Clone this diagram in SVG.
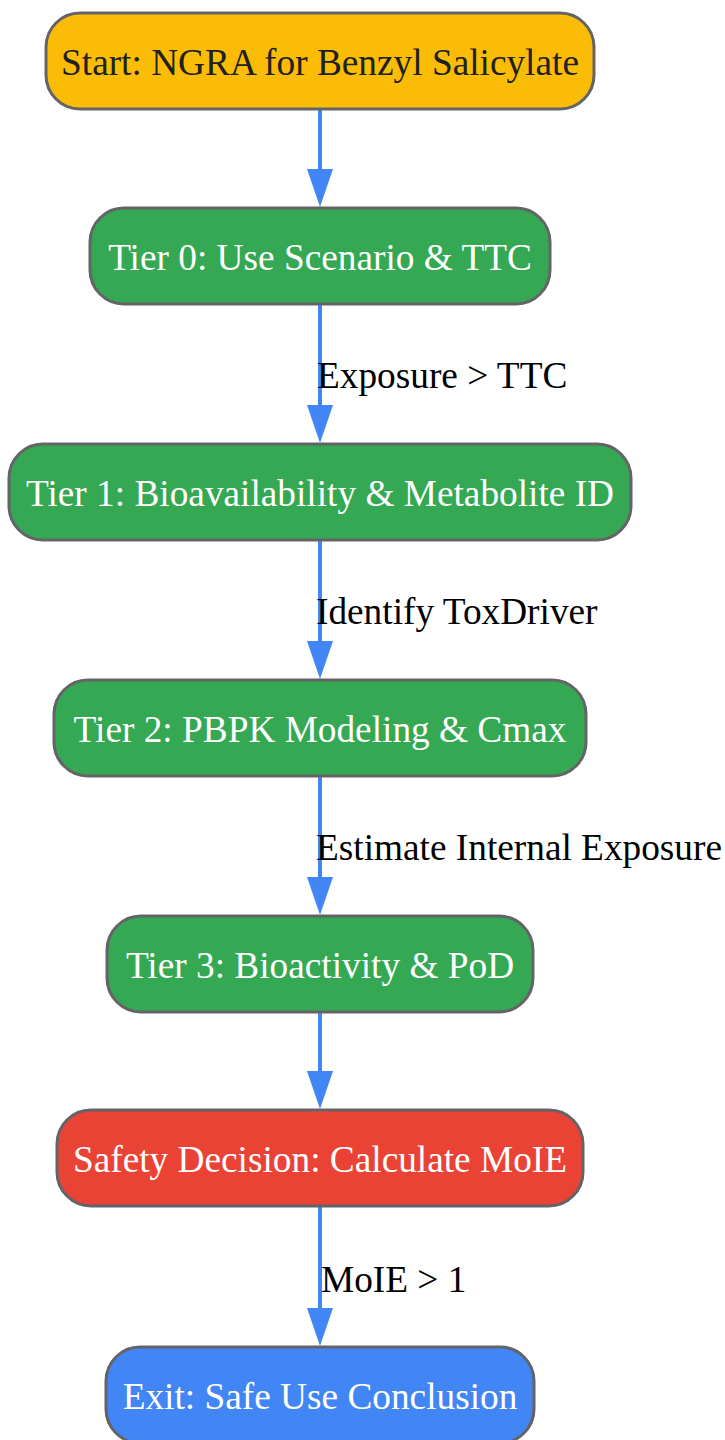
<svg xmlns="http://www.w3.org/2000/svg" width="725" height="1440" viewBox="0 0 725 1440">
<style>
.n{stroke:#646468;stroke-width:3}
.t{font-family:"Liberation Serif",serif;font-size:37.3px;text-anchor:middle;fill:#fff}
.l{font-family:"Liberation Serif",serif;font-size:37.3px;fill:#000}
.e{stroke:#4285F4;stroke-width:4;fill:none}
.h{fill:#4285F4}
</style>
<rect width="725" height="1440" fill="#fff"/>
<g id="connectors">
<line class="e" x1="320" y1="110" x2="320" y2="169"/><path class="h" d="M307,169 L333,169 L320,207 Z"/>
<line class="e" x1="320" y1="305" x2="320" y2="405"/><path class="h" d="M307,405 L333,405 L320,443 Z"/>
<line class="e" x1="320" y1="541" x2="320" y2="641"/><path class="h" d="M307,641 L333,641 L320,679 Z"/>
<line class="e" x1="320" y1="777" x2="320" y2="877"/><path class="h" d="M307,877 L333,877 L320,915 Z"/>
<line class="e" x1="320" y1="1013" x2="320" y2="1071"/><path class="h" d="M307,1071 L333,1071 L320,1109 Z"/>
<line class="e" x1="320" y1="1207" x2="320" y2="1308"/><path class="h" d="M307,1308 L333,1308 L320,1346 Z"/>
<text class="l" x="317" y="388">Exposure &gt; TTC</text>
<text class="l" x="316" y="624">Identify ToxDriver</text>
<text class="l" x="316" y="860">Estimate Internal Exposure</text>
<text class="l" x="321" y="1292">MoIE &gt; 1</text>
</g>
<g id="start"><rect class="n" x="46" y="13" width="548" height="96" rx="34" fill="#FBBC05"/><text class="t" x="320" y="75" style="fill:#202124">Start: NGRA for Benzyl Salicylate</text></g>
<g id="tier0"><rect class="n" x="90" y="208" width="460" height="96" rx="34" fill="#34A853"/><text class="t" x="320" y="270">Tier 0: Use Scenario &amp; TTC</text></g>
<g id="tier1"><rect class="n" x="9" y="444" width="622" height="96" rx="34" fill="#34A853"/><text class="t" x="320" y="506">Tier 1: Bioavailability &amp; Metabolite ID</text></g>
<g id="tier2"><rect class="n" x="54" y="680" width="532" height="96" rx="34" fill="#34A853"/><text class="t" x="320" y="742">Tier 2: PBPK Modeling &amp; Cmax</text></g>
<g id="tier3"><rect class="n" x="107" y="916" width="426" height="96" rx="34" fill="#34A853"/><text class="t" x="320" y="978">Tier 3: Bioactivity &amp; PoD</text></g>
<g id="safety"><rect class="n" x="57" y="1110" width="526" height="96" rx="34" fill="#EA4335"/><text class="t" x="320" y="1172">Safety Decision: Calculate MoIE</text></g>
<g id="exit"><rect class="n" x="106" y="1347" width="428" height="96" rx="34" fill="#4285F4"/><text class="t" x="320" y="1409">Exit: Safe Use Conclusion</text></g>
</svg>
